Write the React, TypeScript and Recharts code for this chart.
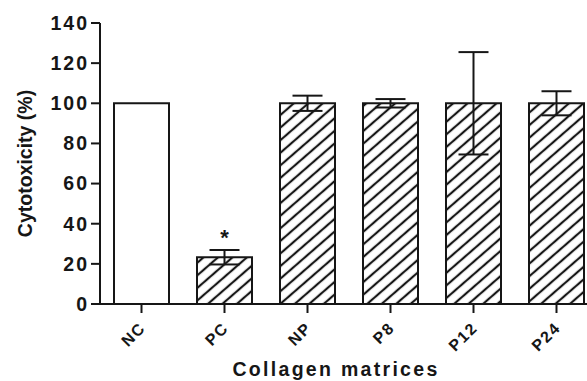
import React from "react";
import { Bar, BarChart, Cell, Customized, ErrorBar, LabelList, XAxis, YAxis } from "recharts";

const GROUPS = ["NC", "PC", "NP", "P8", "P12", "P24"];
const MEANS = [100, 23.3, 100, 100, 100, 100];
const SD = [0, 3.6, 3.8, 2.1, 25.5, 6];
const MARKS = ["", "*", "", "", "", ""];
const Y_TICKS = [0, 20, 40, 60, 80, 100, 120, 140];

const data = GROUPS.map((g, i) => ({ group: g, value: MEANS[i], err: SD[i], mark: MARKS[i] }));

const INK = "#161616";
const FONT = "'Liberation Sans', Arial, sans-serif";

function XTick(props: any) {
  const { x, y, payload } = props;
  const px = x + 5;
  const py = y + 14;
  return (
    <text
      x={px}
      y={py}
      transform={`rotate(-45, ${px}, ${py})`}
      textAnchor="end"
      fontFamily={FONT}
      fontWeight="bold"
      fontSize={16}
      letterSpacing={1.5}
      fill={INK}
    >
      {payload.value}
    </text>
  );
}

function Star(props: any) {
  const { x, y, width, value } = props;
  if (!value) return null;
  return (
    <text x={x + width / 2} y={y - 12} textAnchor="middle" fontFamily={FONT} fontWeight="bold" fontSize={22} fill={INK}>
      {value}
    </text>
  );
}

function AxisTitles() {
  return (
    <g fontFamily={FONT} fontWeight="bold" fill={INK}>
      <text x={25} y={163.5} transform="rotate(-90, 25, 163.5)" textAnchor="middle" dominantBaseline="central" fontSize={19.5}>
        Cytotoxicity (%)
      </text>
      <text x={336} y={376} textAnchor="middle" fontSize={19.5} letterSpacing={2.3}>
        Collagen matrices
      </text>
    </g>
  );
}

export default function App() {
  return (
    <div style={{ position: "absolute", left: 0, top: 0, width: 587, height: 381, overflow: "hidden", background: "#fff" }}>
      <svg width={0} height={0} style={{ position: "absolute" }}>
        <defs>
          <pattern id="hatch" patternUnits="userSpaceOnUse" width={9.5} height={9.5} patternTransform="rotate(49)">
            <rect width={9.5} height={9.5} fill="#fff" />
            <line x1={4.75} y1={0} x2={4.75} y2={9.5} stroke={INK} strokeWidth={2.2} />
          </pattern>
        </defs>
      </svg>
      <BarChart width={600} height={381} data={data} margin={{ top: 23, right: 2, bottom: 0, left: 0 }} barSize={55}>
        <XAxis
          dataKey="group"
          height={77}
          tickSize={9}
          tick={<XTick />}
          interval={0}
          axisLine={{ stroke: INK, strokeWidth: 2 }}
          tickLine={{ stroke: INK, strokeWidth: 2 }}
        />
        <YAxis
          width={100}
          domain={[0, 140]}
          ticks={Y_TICKS}
          tickSize={9}
          tickMargin={2}
          axisLine={{ stroke: INK, strokeWidth: 2 }}
          tickLine={{ stroke: INK, strokeWidth: 2 }}
          tick={{ fill: INK, fontFamily: FONT, fontWeight: "bold", fontSize: 19.5, letterSpacing: 2 }}
        />
        <Bar dataKey="value" stroke={INK} strokeWidth={2} isAnimationActive={false}>
          {data.map((d, i) => (
            <Cell key={d.group} fill={i === 0 ? "#fff" : "url(#hatch)"} />
          ))}
          <ErrorBar dataKey="err" width={15} stroke={INK} strokeWidth={2} direction="y" />
          <LabelList dataKey="mark" content={<Star />} />
        </Bar>
        <Customized component={<AxisTitles />} />
      </BarChart>
    </div>
  );
}
